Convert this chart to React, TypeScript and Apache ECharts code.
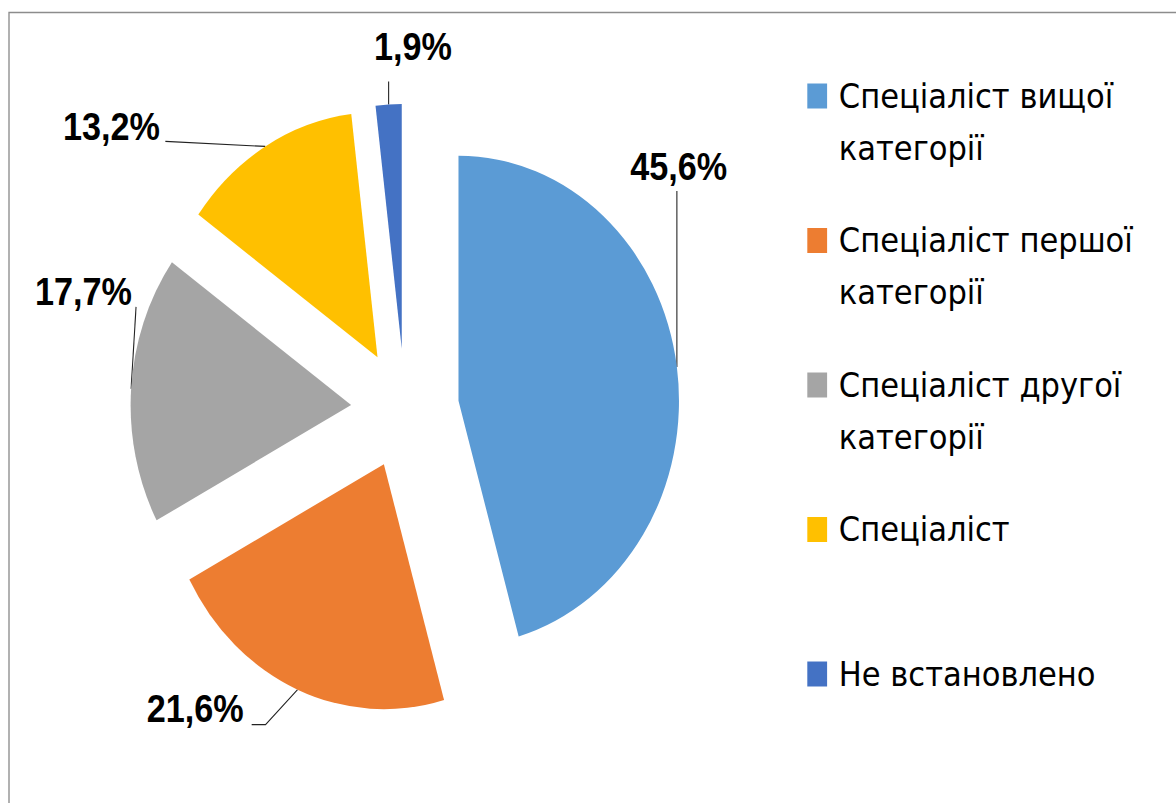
import React, { useEffect, useRef } from "react";
import * as echarts from "echarts";

const categories = [
  "Спеціаліст вищої\nкатегорії",
  "Спеціаліст першої\nкатегорії",
  "Спеціаліст другої\nкатегорії",
  "Спеціаліст",
  "Не встановлено",
];
const values = [45.6, 21.6, 17.7, 13.2, 1.9];
const colors = ["#5B9BD5", "#ED7D31", "#A5A5A5", "#FFC000", "#4472C4"];

// label placement relative to the label-line anchor (style only)
const labelPlacement = [
  { lx: 2, ly: -200, align: "center", pts: [[0, -176]] },
  { lx: -60, ly: 19.5, align: "right", pts: [[-35.6, 35], [-51, 35]] },
  { lx: 1, ly: -97, align: "right", pts: [[5.5, -82]] },
  { lx: -117, ly: -20, align: "right", pts: [[-111, -5]] },
  { lx: 27, ly: -57.5, align: "center", pts: [[0, -23]] },
];

const SX = 0.9;
const W = 1176 / SX;
const H = 803;
const OFFSET = 60;
const CENTER = [450, 409];
const RADIUS = 245;

export default function App() {
  const ref = useRef<HTMLDivElement>(null);
  useEffect(() => {
    if (!ref.current) return;
    const chart = echarts.init(ref.current, undefined, { renderer: "svg", width: W, height: H });
    const fmt = (p: any) => `${Number(p.value).toFixed(1).replace(".", ",")}%`;
    chart.setOption({
      animation: false,
      backgroundColor: "#ffffff",
      graphic: [
        {
          type: "rect",
          shape: { x: 10, y: 12.5, width: 3000, height: 3000 },
          style: { fill: "none", stroke: "#8c8c8c", lineWidth: 1.5 },
          silent: true,
        },
      ],
      legend: {
        orient: "vertical",
        left: 897,
        top: 18,
        padding: 0,
        itemWidth: 22,
        itemHeight: 25,
        itemGap: -11.5,
        icon: "rect",
        selectedMode: false,
        formatter: (name: string) => (name.includes("\n") ? "\n" + name : "\n" + name + "\n"),
        textStyle: {
          fontFamily: "DejaVu Sans",
          fontSize: 34,
          lineHeight: 52,
          color: "#000",
          padding: [0, 0, 0, 8],
        },
        data: categories,
      },
      series: [
        {
          type: "pie",
          center: CENTER,
          radius: RADIUS,
          startAngle: 90,
          clockwise: true,
          selectedMode: "multiple",
          selectedOffset: OFFSET,
          avoidLabelOverlap: false,
          itemStyle: { borderWidth: 0 },
          emphasis: { disabled: true },
          select: { itemStyle: { borderWidth: 0 } },
          label: { show: false },
          labelLine: { show: false },
          data: values.map((v, i) => ({
            value: v,
            name: categories[i],
            selected: true,
            itemStyle: { color: colors[i] },
          })),
        },
        {
          type: "pie",
          center: CENTER,
          radius: RADIUS,
          startAngle: 90,
          clockwise: true,
          silent: true,
          selectedMode: false,
          avoidLabelOverlap: false,
          itemStyle: { color: "transparent", borderWidth: 0 },
          emphasis: { disabled: true },
          label: {
            show: true,
            position: "outside",
            formatter: fmt,
            fontFamily: "Liberation Sans",
            fontWeight: "bold",
            fontSize: 38,
            color: "#000",
          },
          labelLine: {
            show: true,
            length: 20,
            length2: 20,
            lineStyle: { color: "#222", width: 1.2 },
          },
          labelLayout: (p: any) => {
            const pts = p.labelLinePoints;
            if (!pts) return {};
            const [x0, y0] = pts[0];
            const [x1, y1] = pts[1];
            const len = Math.hypot(x1 - x0, y1 - y0) || 1;
            const ax = x0 + ((x1 - x0) / len) * OFFSET;
            const ay = y0 + ((y1 - y0) / len) * OFFSET;
            const c = labelPlacement[p.dataIndex];
            return {
              x: ax + c.lx,
              y: ay + c.ly,
              align: c.align,
              verticalAlign: "middle",
              labelLinePoints: [[ax, ay], ...c.pts.map(([dx, dy]) => [ax + dx, ay + dy])],
            };
          },
          data: values.map((v, i) => ({
            value: v,
            name: categories[i],
          })),
        },
      ],
    });
    return () => chart.dispose();
  }, []);
  return (
    <div
      style={{
        position: "fixed",
        left: 0,
        top: 0,
        width: 1176,
        height: 803,
        overflow: "hidden",
        background: "#fff",
      }}
    >
      <div
        ref={ref}
        style={{ width: W, height: H, transform: `scaleX(${SX})`, transformOrigin: "0 0" }}
      />
    </div>
  );
}
